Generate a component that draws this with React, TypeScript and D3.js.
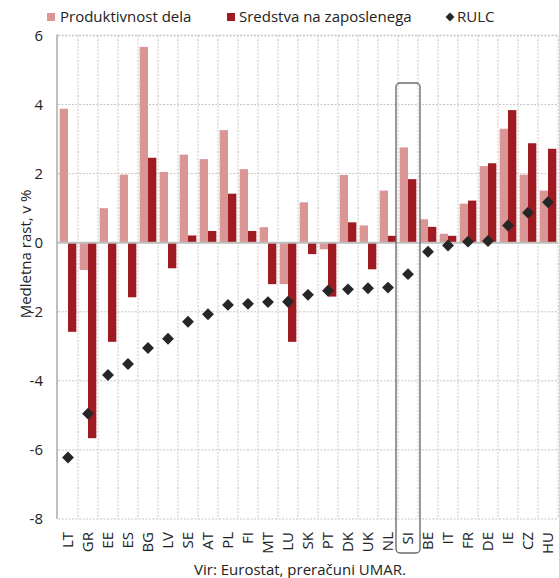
import React from "react";
import * as d3 from "d3";

const countries = ["LT","GR","EE","ES","BG","LV","SE","AT","PL","FI","MT","LU","SK","PT","DK","UK","NL","SI","BE","IT","FR","DE","IE","CZ","HU"];
const productivity = [3.88,-0.79,1.0,1.97,5.67,2.05,2.55,2.42,3.26,2.13,0.45,-1.2,1.17,-0.19,1.96,0.5,1.51,2.76,0.68,0.26,1.13,2.22,3.3,1.97,1.51];
const compensation = [-2.58,-5.66,-2.87,-1.58,2.46,-0.74,0.21,0.34,1.42,0.34,-1.2,-2.87,-0.33,-1.56,0.59,-0.77,0.2,1.84,0.46,0.2,1.22,2.3,3.84,2.88,2.72];
const rulc = [-6.22,-4.95,-3.83,-3.51,-3.05,-2.78,-2.29,-2.07,-1.8,-1.77,-1.72,-1.71,-1.51,-1.39,-1.35,-1.32,-1.3,-0.91,-0.26,-0.08,0.03,0.05,0.5,0.87,1.17];
const yTicks = [6,4,2,0,-2,-4,-6,-8];
const seriesNames = ["Produktivnost dela","Sredstva na zaposlenega","RULC"];
const highlight = "SI";
const yTitle = "Medletna rast, v %";
const source = "Vir: Eurostat, preračuni UMAR.";

const LIGHT = "#d99694";
const DARK = "#9e1b22";
const DIAM = "#262626";
const FONT = "'Open Sans', sans-serif";

export default function App() {
  const W = 559, H = 578;
  const left = 58, right = 558, top = 35.5, bottom = 519;
  const x = d3.scaleBand<string>().domain(countries).range([left, right]).paddingInner(0).paddingOuter(0);
  const xi = d3.scaleBand<string>().domain(["p","s"]).range([0, x.bandwidth()]).paddingInner(0).paddingOuter(0.2);
  const y = d3.scaleLinear().domain([-8, 6]).range([bottom, top]);
  const y0 = y(0);
  const diamond = d3.symbol().type(d3.symbolDiamond2).size(90)();
  const hx = x(highlight)!;

  return (
    <svg width={W} height={H} style={{ position: "absolute", left: 0, top: 0, background: "#fff" }} fontFamily={FONT}>
      {/* legend */}
      <g fontSize={15} fill="#222">
        <rect x={47} y={13} width={8} height={8} fill={LIGHT} />
        <text x={60} y={22}>{seriesNames[0]}</text>
        <rect x={227} y={13} width={8} height={8} fill={DARK} />
        <text x={239} y={22}>{seriesNames[1]}</text>
        <path d={diamond} transform={`translate(450,17) scale(0.75)`} fill={DIAM} />
        <text x={457} y={22}>{seriesNames[2]}</text>
      </g>
      {/* horizontal grid */}
      {yTicks.filter(t => t !== 0).map(t => (
        <line key={"h" + t} x1={left} x2={right} y1={y(t)} y2={y(t)} stroke="#c4c4c4" strokeWidth={t === 6 ? 1.6 : 1} strokeDasharray="2,1.5" />
      ))}
      {/* vertical grid */}
      {countries.map((c, i) => (
        <line key={"v" + c} x1={x(c)! + x.bandwidth()} x2={x(c)! + x.bandwidth()} y1={top} y2={bottom} stroke="#c8c8c8" strokeWidth={1} strokeDasharray="2,1.5" />
      ))}
      {/* bars */}
      {countries.map((c, i) => {
        const p = productivity[i], s = compensation[i];
        return (
          <g key={"b" + c}>
            <rect x={x(c)! + xi("p")!} width={xi.bandwidth()} y={Math.min(y(p), y0)} height={Math.abs(y(p) - y0)} fill={LIGHT} />
            <rect x={x(c)! + xi("s")!} width={xi.bandwidth()} y={Math.min(y(s), y0)} height={Math.abs(y(s) - y0)} fill={DARK} />
          </g>
        );
      })}
      {/* zero line and left axis */}
      <line x1={left} x2={right} y1={y0} y2={y0} stroke="#bfbfbf" strokeWidth={2} />
      <line x1={left - 1} x2={left - 1} y1={top - 1} y2={bottom} stroke="#bfbfbf" strokeWidth={2} />
      {/* RULC diamonds */}
      {countries.map((c, i) => (
        <path key={"d" + c} d={diamond} transform={`translate(${x(c)! + x.bandwidth() / 2},${y(rulc[i])})`} fill={DIAM} />
      ))}
      {/* highlight box */}
      <rect x={hx - 2} y={83} width={x.bandwidth() + 4} height={470} rx={4} fill="none" stroke="#6e6e6e" strokeWidth={1.4} />
      {/* y tick labels */}
      <g fontSize={15} fill="#222" textAnchor="end">
        {yTicks.map(t => (
          <text key={"t" + t} x={43} y={y(t) + 5}>{t < 0 ? "-" + Math.abs(t) : String(t)}</text>
        ))}
      </g>
      {/* x labels */}
      <g fontSize={15} fill="#222">
        {countries.map(c => (
          <text key={"x" + c} transform={`translate(${x(c)! + x.bandwidth() / 2 + 5},532) rotate(-90)`} textAnchor="end">{c}</text>
        ))}
      </g>
      {/* y title */}
      <text transform={`translate(31,254) rotate(-90)`} textAnchor="middle" fontSize={15} fill="#222">{yTitle}</text>
      {/* source */}
      <text x={300} y={575} textAnchor="middle" fontSize={15} fill="#222">{source}</text>
    </svg>
  );
}
